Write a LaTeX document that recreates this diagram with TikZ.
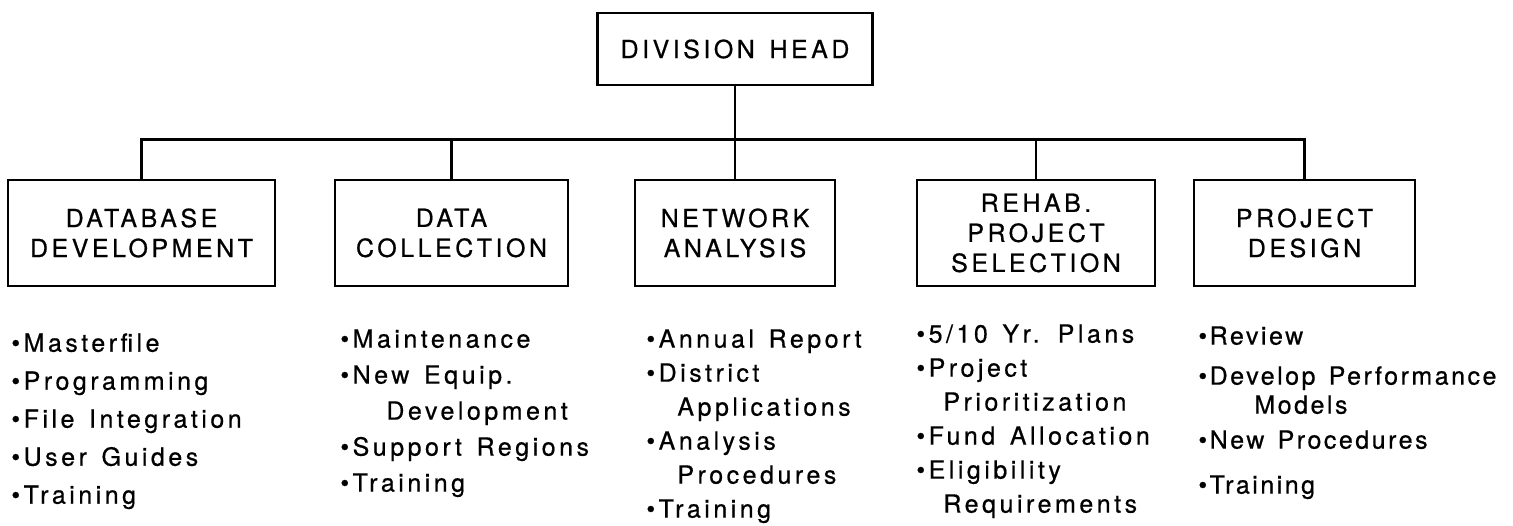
\documentclass[tikz,border=0pt]{standalone}
\usepackage{fontspec}
\setmainfont{TeX Gyre Heros}
\newfontfamily\orgfont[LetterSpace=14,WordSpace=1.4,FakeBold=0.6]{TeX Gyre Heros}
\newfontfamily\tightfont[LetterSpace=10,WordSpace=1.4,FakeBold=0.6]{TeX Gyre Heros}
\usetikzlibrary{calc}

\begin{document}
\begin{tikzpicture}[x=0.5pt, y=-0.5pt, line width=1.4pt,
		unit/.style={draw, align=center, inner sep=0pt, font=\orgfont\fontsize{12.5}{15}\selectfont},
		duties/.style={anchor=north west, align=left, inner sep=0pt, font=\orgfont\fontsize{12.5}{#1}\selectfont},
		tree/.style={to path={|- ($(\tikztostart)!0.58!(\tikztotarget)$) -| (\tikztotarget)}}]
		\useasboundingbox (0,0) rectangle (1513,525);

		\node[unit, minimum width=137.5pt, minimum height=36pt] (dh) at (735, 49) {DIVISION HEAD};

		\node[unit, minimum width=133.5pt, minimum height=53pt] (db) at (141.5, 233) {DATABASE\\DEVELOPMENT};
		\node[unit, minimum width=116.5pt, minimum height=53pt] (dc) at (451.5, 233) {DATA\\COLLECTION};
		\node[unit, minimum width=100pt, minimum height=53pt] (na) at (735, 233) {NETWORK\\ANALYSIS};
		\node[unit, minimum width=119pt, minimum height=53pt] (rps) at (1036, 233) {REHAB.\\PROJECT\\SELECTION};
		\node[unit, minimum width=110.5pt, minimum height=53pt] (pd) at (1304.5, 233) {PROJECT\\DESIGN};

		\node[duties=19pt] (dbl) at (10, 332) {%
			•Masterfile\\•Programming\\•File Integration\\•User Guides\\•Training};
		\node[duties=18pt] (dcl) at (339, 328) {%
			•Maintenance\\•New Equip.\\\hspace*{23pt}Development\\•Support Regions\\•Training};
		\node[duties=17pt] (nal) at (645, 328) {%
			•Annual Report\\•District\\\hspace*{15.5pt}Applications\\•Analysis\\\hspace*{15.5pt}Procedures\\•Training};
		\node[duties=17pt] (rpsl) at (915, 323) {%
			•5/10 Yr. Plans\\•Project\\\hspace*{13.5pt}Prioritization\\•Fund Allocation\\•Eligibility\\\hspace*{13.5pt}Requirements};
		\node[duties=17.5pt, font=\tightfont\fontsize{12.5}{17.5}\selectfont] (pdl) at (1197, 325) {%
			•Review\\[2.5pt]•Develop Performance\\[-3pt]\hspace*{28pt}Models\\•New Procedures\\[5pt]•Training};

		\path (dh.south) edge[tree] (db.north)
		(dh.south) edge[tree] (dc.north)
		(dh.south) edge[tree] (na.north)
		(dh.south) edge[tree] (rps.north)
		(dh.south) edge[tree] (pd.north);
	\end{tikzpicture}
\end{document}
